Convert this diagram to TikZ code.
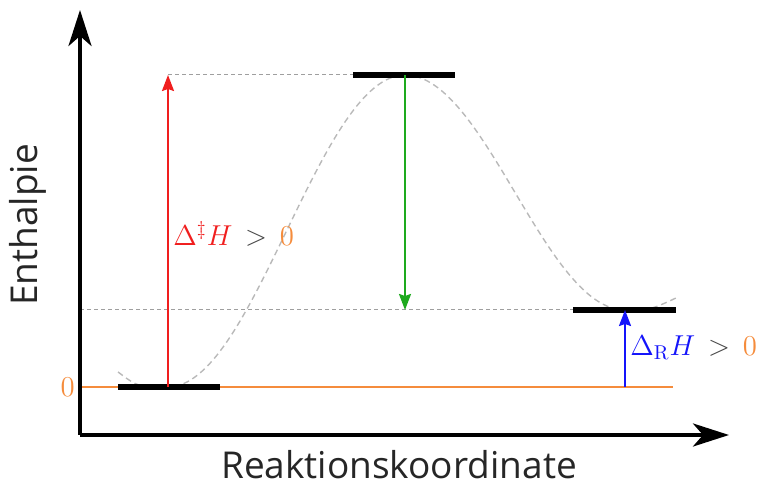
\documentclass[tikz,border=0pt]{standalone}
\usepackage{amsmath,amssymb}
\usepackage{fontspec}
\setsansfont{Open Sans}
\usetikzlibrary{arrows.meta,positioning}
\definecolor{zeroorange}{RGB}{245,140,60}
\definecolor{tsred}{RGB}{240,30,30}
\definecolor{downgreen}{RGB}{30,170,30}
\definecolor{reblue}{RGB}{20,20,250}
\definecolor{relgray}{RGB}{70,70,70}
\newcommand{\relgt}{\mathrel{\,\textcolor{relgray}{>}\,}}
\begin{document}
\begin{tikzpicture}[x=0.5pt,y=0.5pt]
\tikzset{
  axisline/.style={draw=black,line width=2pt,-{Stealth[length=18pt,width=11.5pt,inset=5pt]}},
  levelline/.style={draw=black,line width=2.6pt},
  guideline/.style={draw=gray!75,line width=0.5pt,dash pattern=on 2pt off 1.5pt},
  pathcurve/.style={draw=gray!55,line width=0.7pt,dash pattern=on 3pt off 2pt},
  zeroline/.style={draw=zeroorange,line width=0.8pt},
  energyarrow/.style={line width=1pt,-{Stealth[length=8pt,width=6pt,inset=1pt]}},
  axislabel/.style={font=\sffamily\fontsize{18.5}{22}\selectfont,text=black!85},
  mathlabel/.style={font=\fontsize{14.3}{17}\selectfont,inner sep=1pt}
}
\useasboundingbox (0,0) rectangle (764,486);
% axes
\coordinate (c_O) at (80,51);
\coordinate (c_Ytip) at (80,476);
\coordinate (c_Xtip) at (729,51);
% levels
\coordinate (c_R0) at (118,99);
\coordinate (c_R1) at (220,99);
\coordinate (c_RM) at (168,99);
\coordinate (c_T0) at (353,411);
\coordinate (c_T1) at (455,411);
\coordinate (c_TM) at (405,411);
\coordinate (c_P0) at (573,176);
\coordinate (c_P1) at (676,176);
\coordinate (c_PM) at (625,176);
\coordinate (c_Z0) at (80,99);
\coordinate (c_Z1) at (673,99);
\coordinate (c_TL) at (168,411);
\coordinate (c_PL) at (80,176);
\coordinate (c_TD) at (405,176);
\coordinate (c_PB) at (625,99);
% reaction path
\draw[pathcurve] (118,114) .. controls (138,99) .. (c_RM)
  .. controls (254,99) and (319,411) .. (c_TM)
  .. controls (485,411) and (545,176) .. (c_PM)
  .. controls (650,176) .. (676,188);
% guides
\draw[zeroline] (c_Z0) -- (c_Z1);
\draw[guideline] (c_TL) -- (c_T0);
\draw[guideline] (c_PL) -- (c_P0);
\draw[levelline] (c_R0) -- (c_R1);
\draw[levelline] (c_T0) -- (c_T1);
\draw[levelline] (c_P0) -- (c_P1);
% energy arrows
\draw[energyarrow,tsred] (c_RM) -- (c_TL);
\draw[energyarrow,downgreen] (c_TM) -- (c_TD);
\draw[energyarrow,reblue] (c_PB) -- (c_PM);
\draw[axisline] (c_O) -- (c_Ytip);
\draw[axisline] (c_O) -- (c_Xtip);
% labels
\node[mathlabel,anchor=east] (l_zero) at (77,99) {$\textcolor{zeroorange}{0}$};
\node[mathlabel,anchor=west] (l_ts) at (171,252)
  {$\textcolor{tsred}{\Delta^{\ddagger}H}\relgt\textcolor{zeroorange}{0}$};
\node[mathlabel,anchor=west] (l_re) at (628,138)
  {$\textcolor{reblue}{\Delta_{\mathrm{R}}H}\relgt\textcolor{zeroorange}{0}$};
\node[axislabel,rotate=90] (l_enth) at (28,261) {Enthalpie};
\node[axislabel] (l_rk) at (399,21) {Reaktionskoordinate};
\end{tikzpicture}
\end{document}
